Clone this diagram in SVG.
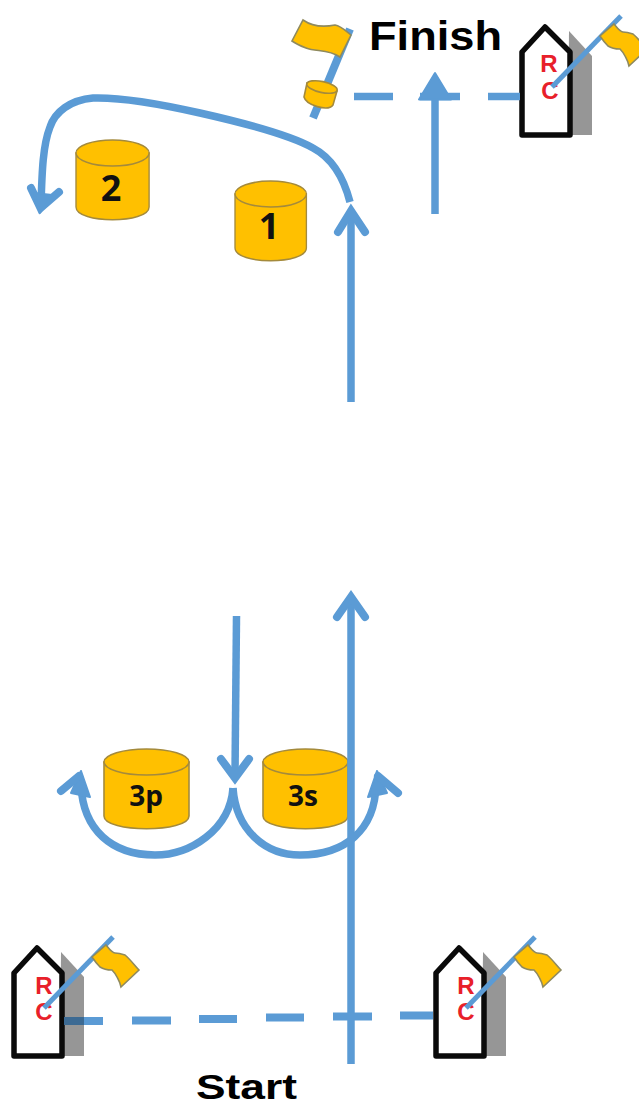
<svg xmlns="http://www.w3.org/2000/svg" xmlns:xlink="http://www.w3.org/1999/xlink" width="639" height="1106" viewBox="0 0 639 1106">
<style>
.ln{fill:none;stroke:#5B9BD5;stroke-width:7.5}
.hd{fill:none;stroke:#5B9BD5;stroke-width:8;stroke-linecap:round;stroke-linejoin:miter}
.tri{fill:#5B9BD5;stroke:#5B9BD5;stroke-width:2;stroke-linejoin:round}
.cyl{fill:#FFC000;stroke:#A48A3C;stroke-width:1.6}
.flag{fill:#FFC000;stroke:#8F8A5E;stroke-width:1.6}
.rc{font-family:"Liberation Sans",Arial,sans-serif;font-weight:700;font-size:24px;fill:#E8202A;text-anchor:middle}
.big{font-family:"Liberation Sans",Arial,sans-serif;font-weight:700;fill:#000}
.mk{font-family:"Open Sans","DejaVu Sans",sans-serif;font-weight:700;fill:#111;text-anchor:middle}
</style>
<defs>
<g id="boat">
<path d="M61 952L84 977V1056H60Z" fill="#969696"/>
<path d="M37 948L62 973V1056H14V973Z" fill="#fff" stroke="#0a0a0a" stroke-width="5.5" stroke-linejoin="round"/>
</g>
<g id="pennant">
<path d="M44 1008L113 937" fill="none" stroke="#5B9BD5" stroke-width="5"/>
<path class="flag" d="M92 957L106 945C110 950 112 953 115 953C119 953 122 954 125 955C130 959 135 966 139 970L121 987C120 982 118 979 117 977C115 973 113 971 112 970C107 970 103 969 100 967C97 964 94 960 92 957Z"/>
</g>
<g id="cylinder">
<path class="cyl" d="M0 13V67C0 84 85 84 85 67V13Z"/>
<ellipse class="cyl" cx="42.500" cy="13" rx="42.500" ry="13"/>
</g>
</defs>

<g id="cyl-2"><use xlink:href="#cylinder" href="#cylinder" transform="translate(76 140) scale(.86 1)"/><text class="mk" x="111" y="201" font-size="36">2</text></g>
<g id="cyl-1"><use xlink:href="#cylinder" href="#cylinder" transform="translate(235 181) scale(.84 1)"/><text class="mk" x="269" y="239" font-size="36">1</text></g>
<g id="cyl-3p"><use xlink:href="#cylinder" href="#cylinder" transform="translate(104 749)"/><text class="mk" x="146" y="806" font-size="28">3p</text></g>
<g id="cyl-3s"><use xlink:href="#cylinder" href="#cylinder" transform="translate(263 749)"/><text class="mk" x="303" y="806" font-size="28">3s</text></g>

<g id="boat-finish" transform="translate(508 -921)"><use xlink:href="#boat" href="#boat"/><text class="rc" x="41" y="993">R</text><text class="rc" x="42" y="1020">C</text><use xlink:href="#pennant" href="#pennant"/></g>
<g id="boat-start-left"><use xlink:href="#boat" href="#boat"/><text class="rc" x="44" y="994">R</text><text class="rc" x="44" y="1020">C</text><use xlink:href="#pennant" href="#pennant"/></g>
<g id="boat-start-right" transform="translate(422 0)"><use xlink:href="#boat" href="#boat"/><text class="rc" x="44" y="994">R</text><text class="rc" x="44" y="1020">C</text><use xlink:href="#pennant" href="#pennant"/></g>

<g id="finish-mark">
<path d="M313 118L350 29" fill="none" stroke="#5B9BD5" stroke-width="8"/>
<path class="flag" d="M303 20C313 27 325 27 335 25C341 26 346 31 351 35L340 57C328 49 316 52 306 48C301 46 296 44 292 41Z"/>
<path class="cyl" d="M307 83L304 97C306 105 328 112 333 105L337 91Z"/>
<ellipse class="cyl" cx="322" cy="87" rx="15.500" ry="5.500" transform="rotate(12 322 87)"/>
</g>

<g id="connectors">
<path class="ln" d="M354 96.500H393M420 96.500H460M488 96.500H520"/>
<path class="ln" d="M435 214V95"/>
<path class="tri" d="M435 73L419 99.500H451Z"/>
<path class="ln" d="M351 402V212"/>
<path class="hd" d="M338 232L351 211L365 232"/>
<path class="ln" d="M350 202C343 175 330 157 313 148C290 135 240 122 200 113C165 105 125 97 93 98C70 100 55 112 50 127C43 145 42 170 41 205"/>
<path class="hd" d="M31 188L40.500 208L59 192"/>
<path class="tri" d="M40 213L34 193L52 195Z"/>
<path class="ln" d="M351 1064V600"/>
<path class="hd" d="M337 617L351 597L365 617"/>
<path class="ln" d="M236.500 616L235 775"/>
<path class="hd" d="M221 759L235 778L249 759"/>
<path class="ln" d="M233 788C230 830 190 855 155 855C112 855 83 830 81 785"/>
<path class="tri" d="M81 771L90 797L71 793Z"/>
<path class="hd" d="M61 791L79 776"/>
<path class="ln" d="M233 788C236 830 265 855 300 855C345 855 375 830 376 785"/>
<path class="tri" d="M377 771L368 797L387 793Z"/>
<path class="hd" d="M398 793L378 776"/>
<path d="M64 1021H103M132 1020.500H171M199 1019H237M266 1017.500H304M333 1016.500H372M400 1015.500H433" fill="none" stroke="#5B9BD5" stroke-width="8"/>
<path d="M64 1021H84" fill="none" stroke="#3C6A93" stroke-width="8"/>
</g>

<text class="big" x="369" y="50" font-size="41" textLength="133" lengthAdjust="spacingAndGlyphs">Finish</text>
<text class="big" x="196" y="1098.500" font-size="35" textLength="101" lengthAdjust="spacingAndGlyphs">Start</text>
</svg>
